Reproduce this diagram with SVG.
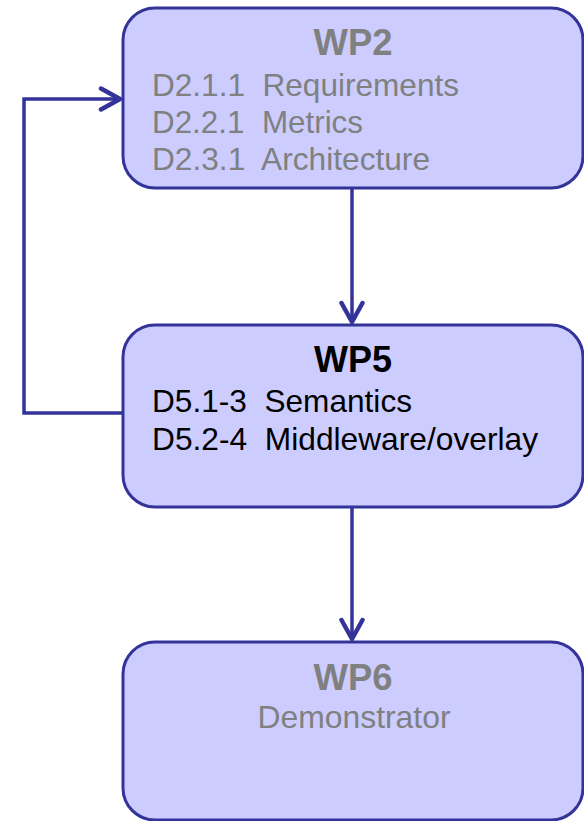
<svg xmlns="http://www.w3.org/2000/svg" width="584" height="821" viewBox="0 0 584 821" xml:space="preserve">
  <style>
    .box { fill: #ccccff; stroke: #333399; stroke-width: 3; }
    .conn { fill: none; stroke: #333399; stroke-width: 3.5; }
    text { font-family: "Liberation Sans", Arial, sans-serif; font-size: 30.5px; white-space: pre; }
    .title { font-weight: bold; font-size: 37px; text-anchor: middle; }
    .grey { fill: #808080; }
    .black { fill: #000000; }
  </style>
  <defs>
    <marker id="chev" viewBox="0 0 26 26" refX="23" refY="13" markerWidth="26" markerHeight="26" markerUnits="userSpaceOnUse" orient="auto">
      <path d="M4,2.5 L23,13 L4,23.5" fill="none" stroke="#333399" stroke-width="4.5" stroke-linecap="round" stroke-linejoin="round"/>
    </marker>
  </defs>

  <g id="connectors">
    <path class="conn" d="M352,189 V322" marker-end="url(#chev)"/>
    <path class="conn" d="M352,508 V639" marker-end="url(#chev)"/>
    <path class="conn" d="M122,413 H24 V99 H120" marker-end="url(#chev)"/>
  </g>

  <g id="wp2">
    <rect class="box" x="123" y="8" width="460" height="180" rx="32"/>
    <text class="title grey" x="353" y="55" textLength="79" lengthAdjust="spacingAndGlyphs">WP2</text>
    <text class="grey" x="152" y="96" textLength="307" lengthAdjust="spacingAndGlyphs">D2.1.1  Requirements</text>
    <text class="grey" x="152" y="133" textLength="211" lengthAdjust="spacingAndGlyphs">D2.2.1  Metrics</text>
    <text class="grey" x="152" y="170" textLength="278" lengthAdjust="spacingAndGlyphs">D2.3.1  Architecture</text>
  </g>

  <g id="wp5">
    <rect class="box" x="123" y="325" width="460" height="182" rx="32"/>
    <text class="title black" x="353" y="372" textLength="78" lengthAdjust="spacingAndGlyphs">WP5</text>
    <text class="black" x="152" y="412" textLength="260" lengthAdjust="spacingAndGlyphs">D5.1-3  Semantics</text>
    <text class="black" x="152" y="450" textLength="386" lengthAdjust="spacingAndGlyphs">D5.2-4  Middleware/overlay</text>
  </g>

  <g id="wp6">
    <rect class="box" x="123" y="642" width="460" height="178" rx="32"/>
    <text class="title grey" x="353" y="690" textLength="79" lengthAdjust="spacingAndGlyphs">WP6</text>
    <text class="grey" x="354" y="728" text-anchor="middle" textLength="193" lengthAdjust="spacingAndGlyphs">Demonstrator</text>
  </g>
</svg>
